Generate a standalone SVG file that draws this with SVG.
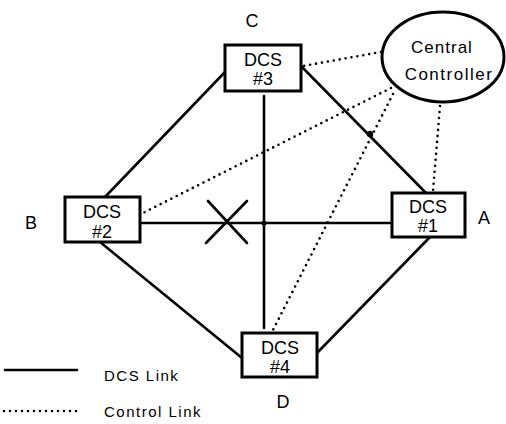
<svg xmlns="http://www.w3.org/2000/svg" width="506" height="424" viewBox="0 0 506 424">
<style>
.box{fill:#fff;stroke:#000;stroke-width:3}
.solid{stroke:#000;stroke-width:2.6;fill:none;stroke-linecap:round}
.dot{stroke:#000;stroke-width:2.6;fill:none;stroke-linecap:round;stroke-dasharray:0 6}
.t{font-family:"Liberation Sans",Arial,sans-serif;fill:#000;text-anchor:middle}
.bt{font-size:18px}
.lbl{font-size:18px}
.leg{font-family:"Liberation Sans",Arial,sans-serif;font-size:15px;letter-spacing:1.5px;fill:#000}
</style>
<rect width="506" height="424" fill="#fff"/>
<g id="connectors">
<line class="solid" x1="225" y1="72" x2="105" y2="197"/>
<line class="solid" x1="301" y1="66" x2="426" y2="193"/>
<line class="solid" x1="264" y1="96" x2="264" y2="328"/>
<line class="solid" x1="140" y1="223" x2="392" y2="223"/>
<line class="solid" x1="100" y1="242" x2="242" y2="358"/>
<line class="solid" x1="430" y1="237" x2="317" y2="353"/>
<line class="dot" x1="381" y1="52" x2="303" y2="66"/>
<line class="dot" x1="391" y1="88" x2="143" y2="213"/>
<line class="dot" x1="393" y1="94" x2="273" y2="330"/>
<line class="dot" x1="440" y1="106" x2="433" y2="191"/>
<circle cx="370" cy="134" r="3.2" fill="#000"/>
<circle cx="264" cy="223" r="2.5" fill="#000"/>
<line class="solid" x1="208" y1="201" x2="247" y2="243" stroke-width="3"/>
<line class="solid" x1="247" y1="201" x2="206" y2="243" stroke-width="3"/>
</g>
<g id="cc">
<ellipse cx="443" cy="57" rx="61" ry="45" fill="#fff" stroke="#000" stroke-width="3"/>
<text class="t" x="442" y="53" font-size="17" letter-spacing="1">Central</text>
<text class="t" x="449" y="80" font-size="17" letter-spacing="1.5">Controller</text>
</g>
<g id="dcs3">
<rect class="box" x="225" y="45" width="76" height="46"/>
<text class="t bt" x="263" y="66">DCS</text>
<text class="t bt" x="263" y="85">#3</text>
<text class="t lbl" x="252" y="27">C</text>
</g>
<g id="dcs2">
<rect class="box" x="65" y="197" width="75" height="45"/>
<text class="t bt" x="102" y="218">DCS</text>
<text class="t bt" x="102" y="238">#2</text>
<text class="t lbl" x="31" y="229">B</text>
</g>
<g id="dcs1">
<rect class="box" x="392" y="193" width="73" height="44"/>
<text class="t bt" x="428" y="213">DCS</text>
<text class="t bt" x="428" y="232">#1</text>
<text class="t lbl" x="484" y="224">A</text>
</g>
<g id="dcs4">
<rect class="box" x="242" y="333" width="75" height="44"/>
<text class="t bt" x="280" y="354">DCS</text>
<text class="t bt" x="280" y="373">#4</text>
<text class="t lbl" x="283" y="408">D</text>
</g>
<g id="legend">
<line class="solid" x1="5" y1="370" x2="77" y2="370"/>
<text class="leg" x="104" y="381">DCS Link</text>
<line class="dot" x1="4" y1="411" x2="80" y2="411" stroke-width="2" stroke-dasharray="0 5.5"/>
<text class="leg" x="104" y="417">Control Link</text>
</g>
</svg>
